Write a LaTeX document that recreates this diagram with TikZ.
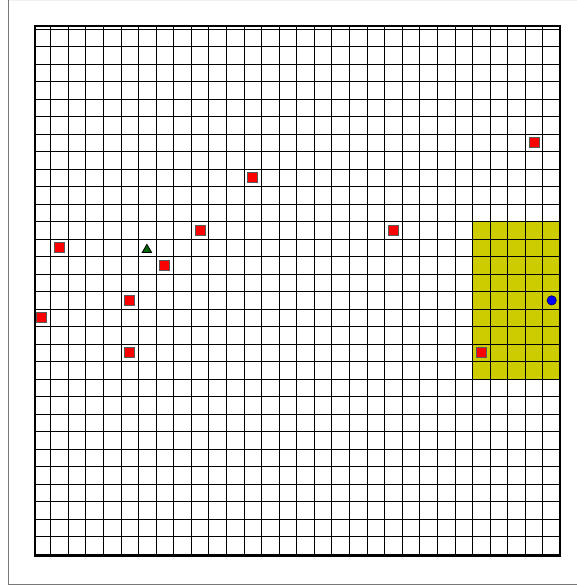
\documentclass[tikz,border=0pt]{standalone}
\usetikzlibrary{shapes.geometric}
\definecolor{cellyellow}{RGB}{204,204,0}
\definecolor{framegray}{RGB}{120,120,120}
\newcommand\cellat[2]{({33.1+(#1+0.5)*17.58},{29.3+(#2+0.5)*17.49})}
\tikzset{
  gridline/.style={black,line width=0.7pt},
  redsq/.style={rectangle,draw=black!65,fill=red,line width=0.75pt,minimum size=7.5pt,inner sep=0pt},
  bluedot/.style={circle,draw=blue!40!black,fill=blue,line width=0.5pt,minimum size=7pt,inner sep=0pt},
  greentri/.style={regular polygon,regular polygon sides=3,draw=black,fill=green!40!black,line width=0.6pt,minimum size=8.2pt,inner sep=0pt},
}
\begin{document}
\begin{tikzpicture}[x=0.75pt,y=-0.75pt]
\useasboundingbox (0,0) rectangle (577,588);
% outer frame
\draw[gray!12,line width=0.75pt] (8.7,0.4) -- (577,0.4);
\draw[framegray,line width=1.1pt] (8.7,0) -- (8.7,584.5) -- (577,584.5);
% highlighted region
\fill[cellyellow] ({33.1+25*17.58},{29.3+11*17.49}) rectangle ({33.1+30*17.58},{29.3+20*17.49});
% grid
\foreach \i in {1,...,29} {
  \draw[gridline] ({33.1+\i*17.58},26) -- ({33.1+\i*17.58},556);
}
\foreach \j in {0,...,30} {
  \draw[gridline] (35,{29.3+\j*17.49}) -- (560,{29.3+\j*17.49});
}
% border
\draw[black,line width=1.9pt] (35,26) rectangle (560,556);
% markers
\node[redsq] (s1) at \cellat{1}{12} {};
\node[redsq] (s2) at \cellat{0}{16} {};
\node[redsq] (s3) at \cellat{5}{15} {};
\node[redsq] (s4) at \cellat{5}{18} {};
\node[redsq] (s5) at \cellat{7}{13} {};
\node[redsq] (s6) at \cellat{9}{11} {};
\node[redsq] (s7) at \cellat{12}{8} {};
\node[redsq] (s8) at \cellat{20}{11} {};
\node[redsq] (s9) at \cellat{28}{6} {};
\node[redsq] (s10) at \cellat{25}{18} {};
\node[greentri] (t1) at (146.9,249.8) {};
\node[bluedot] (b1) at \cellat{29}{15} {};
\end{tikzpicture}
\end{document}
